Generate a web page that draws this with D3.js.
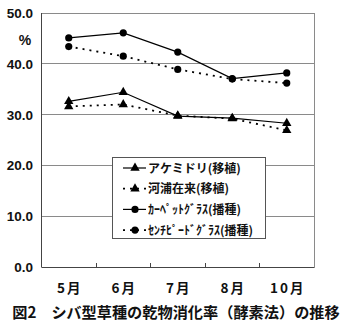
<!DOCTYPE html>
<html><head><meta charset="utf-8">
<script src="https://cdn.jsdelivr.net/npm/d3@7"></script>
<style>
html,body{margin:0;padding:0;background:#fff;}
svg{display:block;}
</style></head>
<body>
<svg id="c" width="347" height="329"></svg>
<script>
const months = ["5月", "6月", "7月", "8月", "10月"];
const akemidori = [32.6, 34.4, 29.7, 29.3, 28.3];
const kawaura = [31.6, 32.0, 29.8, 29.2, 26.9];
const carpet = [45.1, 46.1, 42.3, 37.1, 38.2];
const centipede = [43.4, 41.5, 38.9, 37.0, 36.2];
const seriesNames = ["アケミドリ(移植)", "河浦在来(移植)", "ｶｰﾍﾟｯﾄｸﾞﾗｽ(播種)", "ｾﾝﾁﾋﾟｰﾄﾞｸﾞﾗｽ(播種)"];
const yTicks = [0, 10, 20, 30, 40, 50];
const title = "図2　シバ型草種の乾物消化率（酵素法）の推移";
const yUnit = "%";

const series = [
  {name: seriesNames[0], values: akemidori, marker: "triangle", dash: null},
  {name: seriesNames[1], values: kawaura, marker: "triangle", dash: "2,5"},
  {name: seriesNames[2], values: carpet, marker: "circle", dash: null},
  {name: seriesNames[3], values: centipede, marker: "circle", dash: "2,5"}
];

const svg = d3.select("#c");
const L = 41.5, R = 314, T = 13, B = 267;
const x = d3.scaleBand().domain(months).range([L, R]);
const y = d3.scaleLinear().domain([0, 50]).range([B, T]);
const jp = "'Noto Sans CJK JP', sans-serif";
const lat = "'Liberation Sans', Arial, sans-serif";

// gridlines
svg.append("g").selectAll("line").data(yTicks.filter(d => d > 0 && d < 50)).join("line")
  .attr("x1", L).attr("x2", R).attr("y1", d => y(d)).attr("y2", d => y(d))
  .attr("stroke", "#8a8a8a").attr("stroke-width", 1).attr("shape-rendering", "crispEdges");
// frame
svg.append("rect").attr("x", L).attr("y", T).attr("width", R - L).attr("height", B - T)
  .attr("fill", "none").attr("stroke", "#8a8a8a").attr("shape-rendering", "crispEdges");
// axes lines
svg.append("line").attr("x1", L).attr("x2", L).attr("y1", T).attr("y2", B)
  .attr("stroke", "#444").attr("shape-rendering", "crispEdges");
svg.append("line").attr("x1", L).attr("x2", R).attr("y1", B).attr("y2", B)
  .attr("stroke", "#444").attr("shape-rendering", "crispEdges");
// x category ticks (inside)
svg.append("g").selectAll("line").data(months.slice(1)).join("line")
  .attr("x1", d => x(d)).attr("x2", d => x(d)).attr("y1", B - 4).attr("y2", B)
  .attr("stroke", "#444").attr("shape-rendering", "crispEdges");

// y tick labels
svg.append("g").selectAll("text").data(yTicks).join("text")
  .attr("x", 33).attr("y", d => y(d) + 5)
  .attr("text-anchor", "end").attr("font-family", lat).attr("font-weight", "bold")
  .attr("font-size", 13.5).attr("fill", "#111").text(d => d.toFixed(1));
svg.append("text").attr("x", 25).attr("y", 45).attr("text-anchor", "middle")
  .attr("font-family", lat).attr("font-weight", "bold").attr("font-size", 14).attr("fill", "#111").text(yUnit);

// x labels
svg.append("g").selectAll("text").data(months).join("text")
  .attr("x", d => x(d) + x.bandwidth() / 2 + 1).attr("y", 292.5)
  .attr("text-anchor", "middle").attr("font-family", jp).attr("font-weight", "bold")
  .attr("font-size", 13.5).attr("letter-spacing", 2).attr("fill", "#111").text(d => d);

// title
svg.append("text").attr("x", 176).attr("y", 318).attr("text-anchor", "middle")
  .attr("font-family", jp).attr("font-weight", "bold").attr("font-size", 15.2)
  .attr("fill", "#111").text(title);

const cx = d => x(d) + x.bandwidth() / 2;
const line = d3.line().x((v, i) => cx(months[i])).y(v => y(v));
const tri = d3.symbol().type(d3.symbolTriangle).size(38);

function marker(g, type, px, py) {
  if (type === "circle") {
    g.append("circle").attr("cx", px).attr("cy", py).attr("r", 3.6).attr("fill", "#000");
  } else {
    g.append("path").attr("d", tri).attr("transform", `translate(${px},${py})`).attr("fill", "#000");
  }
}

series.forEach(s => {
  const g = svg.append("g");
  g.append("path").attr("d", line(s.values)).attr("fill", "none").attr("stroke", "#000")
    .attr("stroke-width", s.dash ? 1.8 : 1.2).attr("stroke-dasharray", s.dash);
  s.values.forEach((v, i) => marker(g, s.marker, cx(months[i]), y(v)));
});

// legend
const lg = svg.append("g");
lg.append("rect").attr("x", 112.5).attr("y", 157.5).attr("width", 153).attr("height", 81)
  .attr("fill", "#fff").attr("stroke", "#555").attr("shape-rendering", "crispEdges");
series.forEach((s, i) => {
  const ly = 168 + i * 20.7;
  lg.append("line").attr("x1", 123).attr("x2", 146).attr("y1", ly).attr("y2", ly)
    .attr("stroke", "#000").attr("stroke-width", s.dash ? 1.8 : 1.2).attr("stroke-dasharray", s.dash);
  marker(lg, s.marker, 135, ly);
  lg.append("text").attr("x", 148).attr("y", ly + 4.5).attr("font-family", jp)
    .attr("font-weight", "bold").attr("font-size", 12).attr("fill", "#111").text(s.name);
});
</script>
</body></html>
